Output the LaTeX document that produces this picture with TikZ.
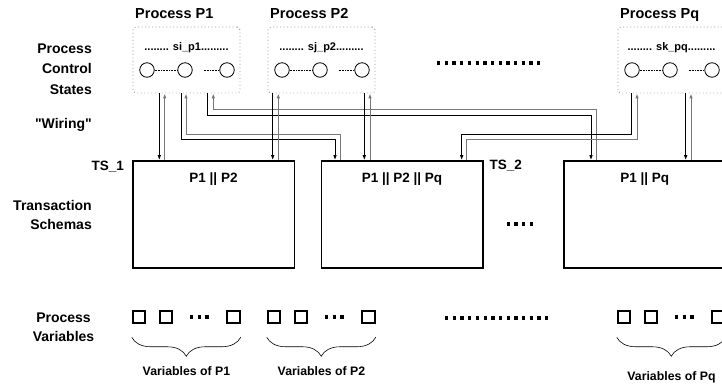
\documentclass[tikz,border=0pt]{standalone}
\usepackage{fontspec}
\setmainfont{Liberation Sans}[Ligatures=TeXOff]
\usetikzlibrary{positioning,arrows.meta,decorations.pathreplacing}
\definecolor{wgray}{RGB}{120,120,120}
\definecolor{boxgray}{RGB}{150,150,150}
\tikzset{
  pbox/.style={draw=boxgray,line width=0.9pt,dash pattern=on 0.9pt off 2.6pt,rounded corners=3pt,minimum width=107pt,minimum height=66pt,inner sep=0pt},
  tsbox/.style={draw,line width=1.5pt,minimum width=161.5pt,minimum height=107pt,inner sep=0pt},
  st/.style={circle,draw,line width=0.8pt,minimum size=14.5pt,inner sep=0pt},
  vbox/.style={draw,line width=2pt,minimum size=12.5pt,inner sep=0pt},
  sdot/.style={densely dotted,line width=0.6pt},
  wdn/.style={line width=1pt,-{Latex[length=5pt,width=3.6pt]}},
  wup/.style={wdn,draw=wgray},
  dotrow/.style={line width=3.3pt,dash pattern=on 3.3pt off 4.4pt},
  brc/.style={decorate,decoration={brace,mirror,amplitude=19pt},line width=0.6pt},
  head/.style={font=\fontsize{14.5}{17}\selectfont\bfseries,inner sep=0pt},
  side/.style={font=\fontsize{14}{20.5}\selectfont\bfseries,inner sep=0pt},
  lbl/.style={font=\fontsize{13.5}{16}\selectfont\bfseries,inner sep=0pt},
  sname/.style={font=\fontsize{11}{13}\selectfont\bfseries,inner sep=0pt},
  vlab/.style={font=\fontsize{12.3}{14}\selectfont\bfseries,inner sep=0pt}
}
\begin{document}
\begin{tikzpicture}[x=1pt,y=-1pt]
  \useasboundingbox (0,0) rectangle (722,387);
  \clip (0,0) rectangle (722,387);
  \foreach \n/\x/\s/\vy in {1/133/si\_p1/371,2/268/sj\_p2/371,q/618/sk\_pq/377}{
    \node[pbox] (p\n) at (\x+53.5,60) {};
    \node[head,anchor=base west] (h\n) at (\x+2,19) {Process P\n};
    \node[sname] (s\n) at (\x+53.5,48) {........ \s.........};
    \node[st] (c\n1) at (\x+14,70) {}; \node[st] (c\n2) at (\x+52,70) {}; \node[st] (c\n3) at (\x+94,70) {};
    \draw[sdot] (c\n1) -- (c\n2); \draw[sdot] ([xshift=11pt]c\n2.east) -- (c\n3);
    \node[vbox] (v\n1) at (\x+6,317) {}; \node[vbox] (v\n2) at (\x+33,317) {}; \node[vbox] (v\n3) at (\x+100.5,317) {};
    \draw[dotrow] (\x+57,317) -- ++(18.7,0);
    \draw[brc] ([yshift=-13pt]v\n1.south west) -- ([yshift=-13pt]v\n3.south east);
    \node[vlab] (vl\n) at (\x+53.5,\vy) {Variables of P\n};
  }
  \node[tsbox] (ts1) at (213.5,214.5) {};
  \node[tsbox] (ts2) at (402,214.5) {};
  \node[tsbox] (ts3) at (644.75,214.5) {};
  \node[lbl,anchor=base] (tl1) at ([yshift=-22.5pt]ts1.north) {P1 || P2};
  \node[lbl,anchor=base] (tl2) at ([yshift=-22.5pt]ts2.north) {P1 || P2 || Pq};
  \node[lbl,anchor=base] (tl3) at ([yshift=-22.5pt]ts3.north) {P1 || Pq};
  \node[lbl,anchor=base east] (tsn1) at ([xshift=-8pt,yshift=-10pt]ts1.north west) {TS\_1};
  \node[lbl,anchor=base west] (tsn2) at ([xshift=6pt,yshift=-9pt]ts2.north east) {TS\_2};
  \node[side,align=right,anchor=east] (lpcs) at (92,69) {Process\\Control\\States};
  \node[side,anchor=east] (lwir) at (92,125) {"Wiring"};
  \node[side,align=right,anchor=east,font=\fontsize{14}{19}\selectfont\bfseries] (lts) at (92,214.5) {Transaction\\Schemas};
  \node[side,align=center,font=\fontsize{14}{19}\selectfont\bfseries] (lpv) at (63.5,327.5) {Process\\Variables};
  \draw[dotrow] (437,63) -- ++(103.4,0);
  \draw[dotrow] (445,318) -- ++(103.4,0);
  \draw[dotrow] (506.7,224) -- ++(26.4,0);
  \draw[wdn] (159.3,0 |- p1.south) -- (159.3,0 |- ts1.north);
  \draw[wup] (164.7,0 |- ts1.north) -- (164.7,0 |- p1.south);
  \draw[wdn] (181,0 |- p1.south) -- (181,139.3) -| (335,0 |- ts2.north);
  \draw[wup] (340,0 |- ts2.north) -- (340,134.3) -| (186,0 |- p1.south);
  \draw[wdn] (207.7,0 |- p1.south) -- (207.7,115.7) -| (591,0 |- ts3.north);
  \draw[wup] (596.7,0 |- ts3.north) -- (596.7,110) -| (213.3,0 |- p1.south);
  \draw[wdn] (272.7,0 |- p2.south) -- (272.7,0 |- ts1.north);
  \draw[wup] (278.3,0 |- ts1.north) -- (278.3,0 |- p2.south);
  \draw[wdn] (364.3,0 |- p2.south) -- (364.3,0 |- ts2.north);
  \draw[wup] (370,0 |- ts2.north) -- (370,0 |- p2.south);
  \draw[wdn] (631.7,0 |- pq.south) -- (631.7,134.3) -| (461.7,0 |- ts2.north);
  \draw[wup] (466.7,0 |- ts2.north) -- (466.7,139.3) -| (637,0 |- pq.south);
  \draw[wdn] (685.7,0 |- pq.south) -- (685.7,0 |- ts3.north);
  \draw[wup] (691,0 |- ts3.north) -- (691,0 |- pq.south);
\end{tikzpicture}
\end{document}
